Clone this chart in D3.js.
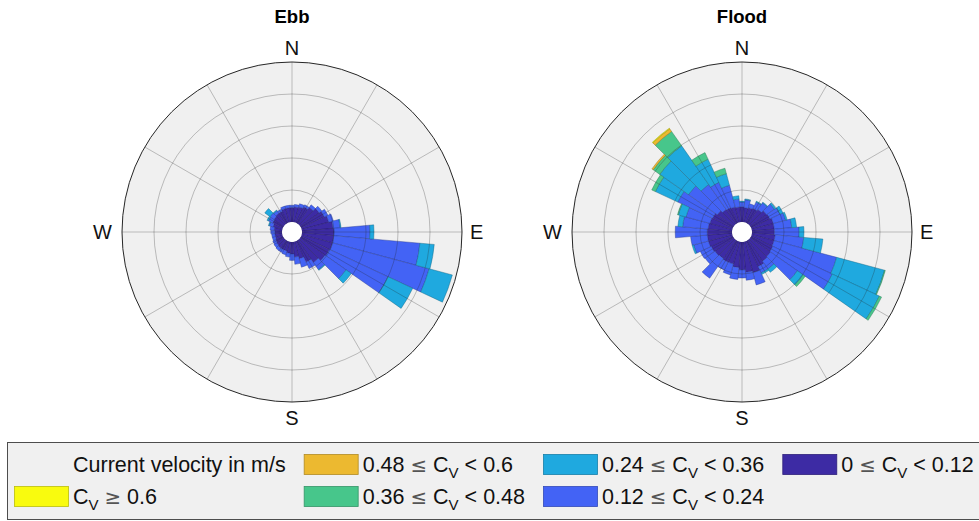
<!DOCTYPE html>
<html lang="en">
<head>
<meta charset="UTF-8">
<title>Ebb and Flood current roses</title>
<script src="https://d3js.org/d3.v7.min.js"></script>
<style>
  body { margin: 0; background: #fff; }
  svg { display: block; font-family: "Liberation Sans", Arial, Helvetica, sans-serif; }
</style>
</head>
<body>
<svg id="chart" width="979" height="521"></svg>
<script>
// direction bins (compass degrees, bin centres, 10 deg wide)
const directions = [0, 10, 20, 30, 40, 50, 60, 70, 80, 90, 100, 110, 120, 130, 140, 150, 160, 170,
                    180, 190, 200, 210, 220, 230, 240, 250, 260, 270, 280, 290, 300, 310, 320, 330, 340, 350];

// velocity classes, slowest first
const classLabels = ["0 ≤ C_V < 0.12", "0.12 ≤ C_V < 0.24", "0.24 ≤ C_V < 0.36",
                     "0.36 ≤ C_V < 0.48", "0.48 ≤ C_V < 0.6", "C_V ≥ 0.6"];
const classColors = ["#3d2ba4", "#4363f5", "#1fa9df", "#47c68b", "#ecb930", "#f9fb0e"];
const legendTitle = "Current velocity in m/s";

// frequency rings (%)
const ringTicks = [2, 4, 6, 8, 10];
const spokeTicks = [0, 30, 60, 90, 120, 150, 180, 210, 240, 270, 300, 330];
const compassLabels = [{ t: "N", a: 0 }, { t: "E", a: 90 }, { t: "S", a: 180 }, { t: "W", a: 270 }];

// Ebb frequencies (%) per class
const ebb0 = [0.9, 0.95, 1.0, 1.1, 1.25, 1.45, 1.6, 1.75, 1.95, 2.0, 2.0, 2.0, 1.95, 1.9, 1.7, 1.45, 1.1, 0.95,
              0.75, 0.7, 0.6, 0.6, 0.6, 0.55, 0.5, 0.45, 0.45, 0.45, 0.5, 0.6, 0.7, 0.75, 0.8, 0.8, 0.9, 0.9];
const ebb1 = [0.15, 0.15, 0.2, 0.15, 0.2, 0.2, 0.25, 0.3, 0.45, 2.25, 5.4, 6.25, 4.05, 1.6, 0.55, 0.45, 0.55, 0.45,
              0.4, 0.25, 0.25, 0.2, 0.2, 0.2, 0.2, 0.2, 0.2, 0.25, 0.25, 0.25, 0.3, 0.3, 0.2, 0.15, 0.15, 0.15];
const ebb2 = [0, 0, 0, 0, 0, 0, 0, 0, 0.05, 0.25, 0.9, 1.5, 1.7, 0.4, 0.05, 0, 0, 0,
              0, 0, 0, 0, 0, 0, 0, 0, 0, 0, 0, 0.05, 0.1, 0.4, 0.05, 0, 0, 0];
const ebb3 = [0, 0, 0, 0, 0, 0, 0, 0, 0, 0, 0, 0, 0, 0, 0, 0, 0, 0,
              0, 0, 0, 0, 0, 0, 0, 0, 0, 0, 0, 0, 0, 0, 0, 0, 0, 0];
const ebb4 = ebb3;
const ebb5 = ebb3;

// Flood frequencies (%) per class
const flood0 = [0.95, 0.9, 0.95, 1.0, 1.1, 1.25, 1.3, 1.4, 1.4, 1.4, 1.45, 1.45, 1.5, 1.55, 1.6, 1.75, 2.0, 1.9,
                1.75, 1.6, 1.45, 1.45, 1.4, 1.45, 1.5, 1.55, 1.55, 1.55, 1.5, 1.45, 1.4, 1.25, 1.1, 1.05, 1.0, 0.95];
const flood1 = [0.3, 0.5, 0.25, 0.45, 0.5, 0.6, 0.7, 0.8, 1.1, 1.55, 1.8, 4.05, 4.1, 2.05, 0.6, 0.45, 0.8, 0.5,
                0.5, 0.75, 0.7, 0.55, 1.5, 0.75, 0.75, 0.95, 1.05, 2.0, 1.6, 1.55, 2.4, 2.2, 1.9, 1.75, 1.4, 0.5];
const flood2 = [0.05, 0.05, 0, 0.05, 0.05, 0.1, 0.2, 0.1, 0.3, 0.3, 1.2, 3.1, 3.25, 0.45, 0.25, 0.1, 0, 0,
                0, 0, 0, 0, 0, 0, 0, 0.1, 0, 0, 0.3, 0.5, 1.55, 2.2, 2.95, 1.6, 0.75, 0.2];
const flood3 = [0, 0, 0, 0, 0, 0, 0, 0, 0, 0, 0, 0.05, 0.15, 0.15, 0, 0, 0, 0,
                0, 0, 0, 0, 0, 0, 0, 0, 0, 0, 0, 0.05, 0.25, 0.5, 1.1, 0.45, 0.35, 0];
const flood4 = [0, 0, 0, 0, 0, 0, 0, 0, 0, 0, 0, 0, 0, 0, 0, 0, 0, 0,
                0, 0, 0, 0, 0, 0, 0, 0, 0, 0, 0, 0, 0, 0.1, 0.2, 0, 0, 0];
const flood5 = [0, 0, 0, 0, 0, 0, 0, 0, 0, 0, 0, 0, 0, 0, 0, 0, 0, 0,
                0, 0, 0, 0, 0, 0, 0, 0, 0, 0, 0, 0, 0, 0, 0.05, 0, 0, 0];

const roses = [
  { title: "Ebb", cx: 292, series: [ebb0, ebb1, ebb2, ebb3, ebb4, ebb5] },
  { title: "Flood", cx: 742, series: [flood0, flood1, flood2, flood3, flood4, flood5] }
];

const svg = d3.select("#chart");
const cy = 232;
const R = 170;
const hole = 10;

const r = d3.scaleLinear().domain([0, 10]).range([hole, R]);
const ang = d3.scaleLinear().domain([0, 360]).range([0, 2 * Math.PI]);
const keys = classLabels.map((d, i) => "c" + i);

roses.forEach(rose => {
  const g = svg.append("g").attr("transform", `translate(${rose.cx},${cy})`);

  // axes background
  g.append("circle").attr("r", R).attr("fill", "#f0f0f0");

  // stacked bars
  const rows = directions.map((dir, i) => {
    const o = { dir: dir };
    keys.forEach((k, j) => o[k] = rose.series[j][i]);
    return o;
  });
  const stacked = d3.stack().keys(keys)(rows);

  const arc = d3.arc()
    .innerRadius(d => r(d[0]))
    .outerRadius(d => r(d[1]))
    .startAngle(d => ang(d.data.dir - 5))
    .endAngle(d => ang(d.data.dir + 5));

  stacked.forEach((layer, j) => {
    g.append("g")
      .selectAll("path")
      .data(layer.filter(d => d[1] - d[0] > 0))
      .join("path")
      .attr("d", arc)
      .attr("fill", classColors[j])
      .attr("stroke", d3.color(classColors[j]).darker(1.6))
      .attr("stroke-opacity", 0.6)
      .attr("stroke-width", 0.7);
  });

  // grid on top
  const grid = g.append("g").attr("fill", "none").attr("stroke", "#262626")
    .attr("stroke-opacity", 0.3).attr("stroke-width", 0.9);
  grid.selectAll("circle").data(ringTicks.slice(0, -1)).join("circle").attr("r", d => r(d));
  grid.selectAll("line").data(spokeTicks).join("line")
    .attr("x1", d => hole * Math.sin(ang(d)))
    .attr("y1", d => -hole * Math.cos(ang(d)))
    .attr("x2", d => R * Math.sin(ang(d)))
    .attr("y2", d => -R * Math.cos(ang(d)));

  g.append("circle").attr("r", R).attr("fill", "none").attr("stroke", "#262626").attr("stroke-width", 1);
  g.append("circle").attr("r", hole).attr("fill", "#fff");

  // compass labels
  g.selectAll("text.dir").data(compassLabels).join("text")
    .attr("class", "dir")
    .attr("font-size", 20)
    .attr("fill", "#111")
    .attr("text-anchor", d => d.a === 90 ? "start" : d.a === 270 ? "end" : "middle")
    .attr("x", d => d.a === 90 ? R + 8 : d.a === 270 ? -R - 10 : 0)
    .attr("y", d => d.a === 0 ? -R - 7 : d.a === 180 ? R + 23 : 7)
    .text(d => d.t);

  svg.append("text")
    .attr("x", rose.cx).attr("y", 23)
    .attr("text-anchor", "middle")
    .attr("font-size", 18.5).attr("font-weight", "bold")
    .attr("fill", "#000")
    .text(rose.title);
});

// legend, filled column by column (two rows)
const legendItems = [{ label: legendTitle, color: null }]
  .concat(classLabels.map((l, i) => ({ label: l, color: classColors[i] })).reverse());

const lg = svg.append("g");
lg.append("rect").attr("x", 7.5).attr("y", 442.5).attr("width", 990).attr("height", 77)
  .attr("fill", "#f0f0f0").attr("stroke", "#4d4d4d").attr("stroke-width", 1);

const rowBase = [472, 504];
const fs = 21.5;

// split "a ≤ C_V < b" into runs: subscript V, and the relation sign in a lighter face
function writeLabel(sel, label) {
  const parts = label.split("C_V");
  if (parts.length === 1) { sel.text(label); return; }
  const rel = (s, dy0) => {
    let first = true;
    s.split(/([≤≥])/).forEach(p => {
      if (!p) return;
      const ts = sel.append("tspan").text(p);
      if (p === "≤" || p === "≥") {
        ts.attr("font-family", "DejaVu Sans").attr("fill", "#555").attr("font-size", fs * 0.92);
      }
      if (first && dy0) ts.attr("dy", dy0);
      first = false;
    });
  };
  rel(parts[0], 0);
  sel.append("tspan").text("C");
  sel.append("tspan").attr("font-size", fs * 0.7).attr("dy", 6).text("V");
  rel(parts[1], -6);
}

let colStart = 14;
for (let c = 0; c * 2 < legendItems.length; c++) {
  const textX = colStart + 59;
  let maxW = 0;
  for (let rr = 0; rr < 2; rr++) {
    const item = legendItems[c * 2 + rr];
    if (!item) continue;
    if (item.color) {
      lg.append("rect")
        .attr("x", colStart + 0.5).attr("y", rowBase[rr] - 17.5)
        .attr("width", 54).attr("height", 20)
        .attr("fill", item.color)
        .attr("stroke", d3.color(item.color).darker(0.8)).attr("stroke-width", 0.8);
    }
    const t = lg.append("text").attr("x", textX).attr("y", rowBase[rr])
      .attr("font-size", fs).attr("fill", "#111");
    writeLabel(t, item.label);
    maxW = Math.max(maxW, t.node().getComputedTextLength());
  }
  colStart = textX + maxW + 18;
}
</script>
</body>
</html>
